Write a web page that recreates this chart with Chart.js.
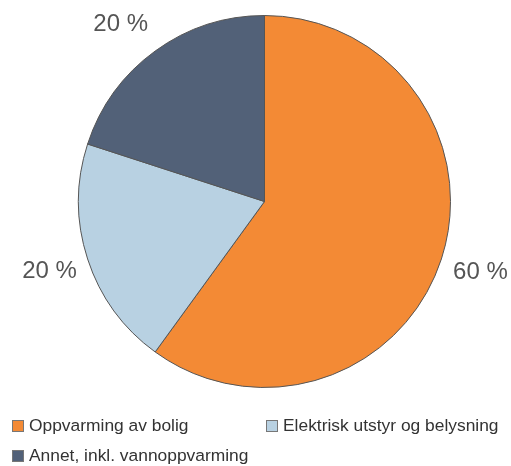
<!DOCTYPE html>
<html>
<head>
<meta charset="utf-8">
<script src="https://cdn.jsdelivr.net/npm/chart.js@4"></script>
<style>
html,body{margin:0;padding:0;background:#fff;}
#wrap{position:relative;width:511px;height:466px;font-family:"Liberation Sans",Arial,sans-serif;}
#cv{position:absolute;left:0;top:0;}
.leg{position:absolute;font-size:17.4px;color:#333;white-space:nowrap;line-height:20px;}
.sw{display:inline-block;width:10px;height:10px;border:1px solid #777;margin-right:5px;vertical-align:-1px;}
</style>
</head>
<body>
<div id="wrap"><canvas id="cv" width="511" height="466"></canvas></div>
<script>
const categories = ["Oppvarming av bolig", "Elektrisk utstyr og belysning", "Annet, inkl. vannoppvarming"];
const values = [60, 20, 20];
const colors = ["#F38A35", "#B8D1E2", "#526178"];
const valueLabels = ["60 %", "20 %", "20 %"];
const labelNudge = [[1, 1], [0, 0], [-11, 6]];

const labelPlugin = {
  id: 'outLabels',
  afterDatasetsDraw(chart) {
    const ctx = chart.ctx;
    const meta = chart.getDatasetMeta(0);
    ctx.save();
    ctx.font = '24px "Liberation Sans", Arial, sans-serif';
    ctx.fillStyle = '#555555';
    ctx.textAlign = 'center';
    ctx.textBaseline = 'middle';
    meta.data.forEach((arc, i) => {
      const p = arc.getProps(['x','y','startAngle','endAngle','outerRadius'], true);
      const mid = (p.startAngle + p.endAngle) / 2;
      const d = p.outerRadius + 40;
      ctx.fillText(valueLabels[i], p.x + Math.cos(mid) * d + labelNudge[i][0], p.y + Math.sin(mid) * d + labelNudge[i][1]);
    });
    ctx.restore();
  }
};

new Chart(document.getElementById('cv'), {
  type: 'pie',
  data: {
    labels: categories,
    datasets: [{
      data: values,
      backgroundColor: colors,
      borderColor: '#555555',
      borderWidth: 1
    }]
  },
  options: {
    responsive: false,
    animation: false,
    layout: { padding: { left: 78, top: 15, right: 60, bottom: 78 } },
    plugins: { legend: { display: false }, tooltip: { enabled: false } }
  },
  plugins: [labelPlugin]
});

const wrap = document.getElementById('wrap');
const legPos = [[12, 415], [266, 415], [12, 445]];
categories.forEach((c, i) => {
  const d = document.createElement('div');
  d.className = 'leg';
  d.style.left = legPos[i][0] + 'px';
  d.style.top = legPos[i][1] + 'px';
  const s = document.createElement('span');
  s.className = 'sw';
  s.style.background = colors[i];
  d.appendChild(s);
  d.appendChild(document.createTextNode(c));
  wrap.appendChild(d);
});
</script>
</body>
</html>
